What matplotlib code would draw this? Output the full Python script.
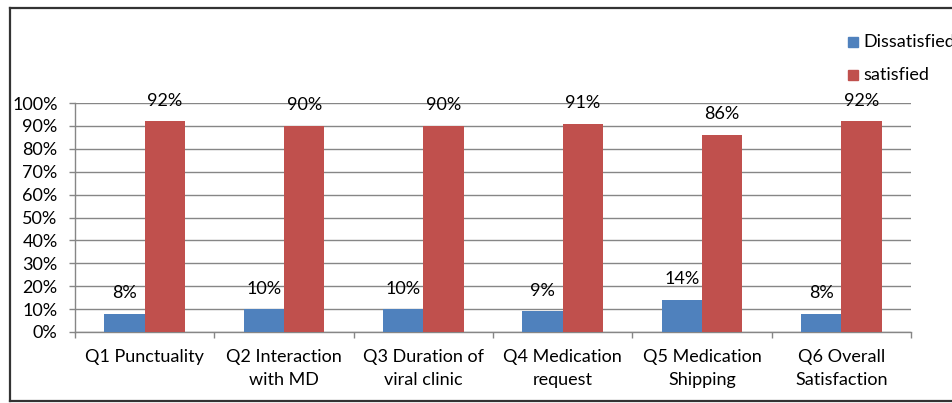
import numpy as np
import matplotlib.pyplot as plt
from matplotlib.patches import Rectangle
from matplotlib.ticker import FuncFormatter, FixedLocator

categories = ["Q1 Punctuality", "Q2 Interaction\nwith MD", "Q3 Duration of\nviral clinic",
              "Q4 Medication\nrequest", "Q5 Medication\nShipping", "Q6 Overall\nSatisfaction"]
dissatisfied = [8, 10, 10, 9, 14, 8]
satisfied = [92, 90, 90, 91, 86, 92]

plt.rcParams['font.family'] = ['Lato', 'DejaVu Sans']
FS = 13

W, H = 953, 403
fig = plt.figure(figsize=(W / 100, H / 100), dpi=100)

# outer frame (right edge is cut off in the original)
fig.add_artist(plt.Line2D([10 / W, 10 / W], [1 - 8 / H, 1 - 401 / H], color="#333333", lw=1.6))
fig.add_artist(plt.Line2D([10 / W, 1], [1 - 8 / H, 1 - 8 / H], color="#333333", lw=1.6))
fig.add_artist(plt.Line2D([10 / W, 1], [1 - 401 / H, 1 - 401 / H], color="#333333", lw=1.6))

left, right, top, bottom = 75, 911, 103, 332
ax = fig.add_axes([left / W, 1 - bottom / H, (right - left) / W, (bottom - top) / H])

x = np.arange(len(categories))
bw = 0.29
blue = "#4f81bd"
red = "#c0504d"
ax.bar(x - bw / 2, dissatisfied, bw, color=blue, label="Dissatisfied", zorder=3)
ax.bar(x + bw / 2, satisfied, bw, color=red, label="satisfied", zorder=3)

for xi, v in zip(x, dissatisfied):
    ax.text(xi - bw / 2, v + 5.5, f"{v}%", ha="center", va="bottom", fontsize=FS)
for xi, v in zip(x, satisfied):
    ax.text(xi + bw / 2, v + 5.5, f"{v}%", ha="center", va="bottom", fontsize=FS)

ax.set_xlim(-0.5, len(categories) - 0.5)
ax.set_ylim(0, 100)
ax.set_yticks(np.arange(0, 101, 10))
ax.yaxis.set_major_formatter(FuncFormatter(lambda v, p: f"{int(v)}%"))
ax.grid(axis="y", color="#868686", lw=1, zorder=0)
ax.set_xticks(x)
ax.set_xticklabels(categories, fontsize=FS, linespacing=1.6, va="top", ha="center")
ax.tick_params(axis="x", length=0, pad=12)
ax.xaxis.set_minor_locator(FixedLocator(np.arange(-0.5, len(categories), 1)))
ax.tick_params(axis="x", which="minor", length=4.5, color="#868686", width=1)
ax.tick_params(axis="y", length=4.5, color="#868686", width=1, labelsize=FS, pad=8)
for s in ["top", "right"]:
    ax.spines[s].set_visible(False)
for s in ["left", "bottom"]:
    ax.spines[s].set_color("#868686")
    ax.spines[s].set_linewidth(1)
for lbl in ax.get_xticklabels():
    lbl.set_multialignment("center")

# legend
for i, (name, c) in enumerate([("Dissatisfied", blue), ("satisfied", red)]):
    yc = 42 + i * 33
    fig.add_artist(Rectangle((848 / W, 1 - (yc + 5) / H), 10 / W, 10 / H, color=c,
                             transform=fig.transFigure))
    fig.text(863 / W, 1 - yc / H, name, fontsize=FS, va="center", ha="left")

fig.savefig("out.png", dpi=100)
